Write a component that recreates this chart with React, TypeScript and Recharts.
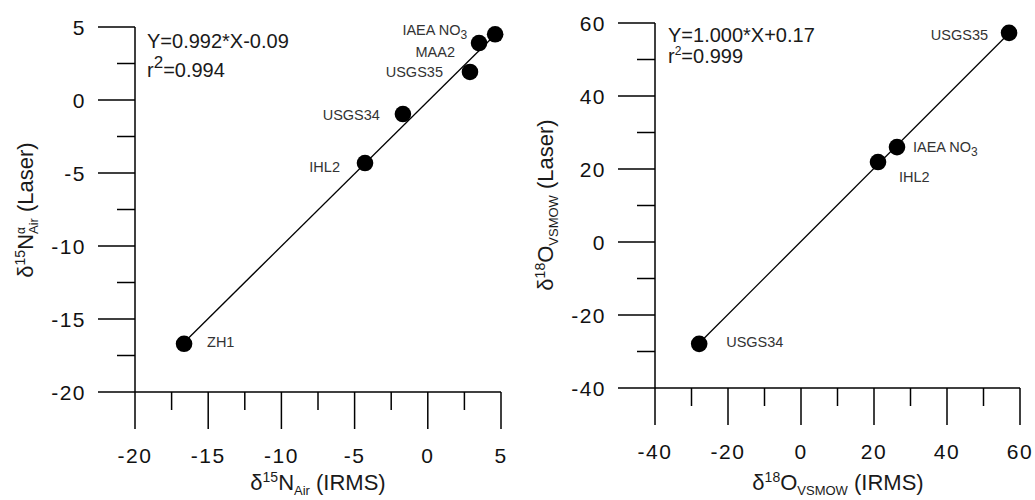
import React from "react";
import { ScatterChart, Scatter, XAxis, YAxis, ReferenceLine } from "recharts";

// left panel: nitrogen
const nNames = ["ZH1", "IHL2", "USGS34", "USGS35", "MAA2", "IAEA NO3"];
const nIrms = [-16.65, -4.29, -1.7, 2.88, 3.5, 4.6];
const nLaser = [-16.7, -4.32, -0.96, 1.92, 3.9, 4.5];
const nFit = [0.992, -0.09]; // slope, intercept
const nTicks = [-20, -17.5, -15, -12.5, -10, -7.5, -5, -2.5, 0, 2.5, 5];

// right panel: oxygen
const oNames = ["USGS34", "IHL2", "IAEA NO3", "USGS35"];
const oIrms = [-27.9, 21.1, 26.3, 57.0];
const oLaser = [-27.9, 21.9, 26.0, 57.3];
const oFit = [1.0, 0.17];
const oTicks = [-40, -30, -20, -10, 0, 10, 20, 30, 40, 50, 60];

const FONT = "'Liberation Sans', Arial, Helvetica, sans-serif";

const nLabelPos: Record<string, { dx: number; dy: number; anchor: string }> = {
  ZH1: { dx: 23, dy: -2, anchor: "start" },
  IHL2: { dx: -25, dy: 4, anchor: "end" },
  USGS34: { dx: -23, dy: 1, anchor: "end" },
  USGS35: { dx: -27, dy: 0, anchor: "end" },
  MAA2: { dx: -24, dy: 9, anchor: "end" },
  "IAEA NO3": { dx: -28, dy: -4, anchor: "end" },
};
const oLabelPos: Record<string, { dx: number; dy: number; anchor: string }> = {
  USGS34: { dx: 27, dy: -2, anchor: "start" },
  IHL2: { dx: 21, dy: 15, anchor: "start" },
  "IAEA NO3": { dx: 16, dy: 0, anchor: "start" },
  USGS35: { dx: -21, dy: 2, anchor: "end" },
};

const makeData = (names: string[], xs: number[], ys: number[]) =>
  names.map((name, i) => ({ name, x: xs[i], y: ys[i] }));

const fitSegment = (xs: number[], fit: number[]) => {
  const lo = Math.min(...xs);
  const hi = Math.max(...xs);
  return [
    { x: lo, y: fit[0] * lo + fit[1] },
    { x: hi, y: fit[0] * hi + fit[1] },
  ];
};

const isMajor = (v: number, step: number) => Math.abs(v % step) < 1e-6;

const yTick = (step: number) => (props: any) => {
  const { x, y, payload } = props;
  const major = isMajor(payload.value, step);
  const len = major ? 37 : 18;
  return (
    <g>
      <line x1={x - len} y1={y} x2={x} y2={y} stroke="#000" strokeWidth={1.5} />
      {major && (
        <text x={x - len - 12} y={y} textAnchor="end" dominantBaseline="central"
          fontSize={21} letterSpacing={1.5} fontFamily={FONT} fill="#111">
          {payload.value}
        </text>
      )}
    </g>
  );
};

const xTick = (step: number) => (props: any) => {
  const { x, y, payload } = props;
  const major = isMajor(payload.value, step);
  const len = major ? 37 : 18;
  return (
    <g>
      <line x1={x} y1={y} x2={x} y2={y + len} stroke="#000" strokeWidth={1.5} />
      {major && (
        <text x={x} y={y + 71} textAnchor="middle" fontSize={21} letterSpacing={1.5}
          fontFamily={FONT} fill="#111">
          {payload.value}
        </text>
      )}
    </g>
  );
};

const dotShape = (pos: typeof nLabelPos) => (props: any) => {
  const { cx, cy, payload } = props;
  const p = pos[payload.name];
  const isNo3 = payload.name === "IAEA NO3";
  return (
    <g>
      <circle cx={cx} cy={cy} r={8.3} fill="#000" />
      <text x={cx + p.dx} y={cy + p.dy} textAnchor={p.anchor} dominantBaseline="central"
        fontSize={14.5} fontFamily={FONT} fill="#333">
        {isNo3 ? (
          <>
            IAEA NO<tspan fontSize={12} dy={5}>3</tspan>
          </>
        ) : (
          payload.name
        )}
      </text>
    </g>
  );
};

function Panel(props: {
  data: { name: string; x: number; y: number }[];
  seg: { x: number; y: number }[];
  domain: number[];
  ticks: number[];
  step: number;
  pos: typeof nLabelPos;
  width: number;
  margin: { top: number; right: number; bottom: number; left: number };
}) {
  const { data, seg, domain, ticks, step, pos, width, margin } = props;
  return (
    <ScatterChart width={width} height={500} margin={margin}>
      <XAxis type="number" dataKey="x" domain={domain} ticks={ticks} interval={0}
        height={60} tickSize={0} tickMargin={0} tickLine={false}
        axisLine={{ stroke: "#000", strokeWidth: 1.5 }} tick={xTick(step)} />
      <YAxis type="number" dataKey="y" domain={domain} ticks={ticks} interval={0}
        width={60} tickSize={0} tickMargin={0} tickLine={false}
        axisLine={{ stroke: "#000", strokeWidth: 1.5 }} tick={yTick(step)} />
      <ReferenceLine segment={seg} stroke="#000" strokeWidth={1.3} ifOverflow="visible" />
      <Scatter data={data} isAnimationActive={false} shape={dotShape(pos)} />
    </ScatterChart>
  );
}

export default function App() {
  const txt = { fontFamily: FONT, fill: "#1a1a1a" };
  return (
    <div style={{ position: "absolute", left: 0, top: 0, width: 1035, height: 500, background: "#fff" }}>
      <div style={{ position: "absolute", left: 0, top: 0 }}>
        <Panel data={makeData(nNames, nIrms, nLaser)} seg={fitSegment(nIrms, nFit)}
          domain={[-20, 5]} ticks={nTicks} step={5} pos={nLabelPos} width={520}
          margin={{ top: 27, right: 19, bottom: 48, left: 75 }} />
      </div>
      <div style={{ position: "absolute", left: 520, top: 0 }}>
        <Panel data={makeData(oNames, oIrms, oLaser)} seg={fitSegment(oIrms, oFit)}
          domain={[-40, 60]} ticks={oTicks} step={20} pos={oLabelPos} width={515}
          margin={{ top: 23, right: 15, bottom: 52, left: 75 }} />
      </div>
      <svg width={1035} height={500} style={{ position: "absolute", left: 0, top: 0, pointerEvents: "none" }}>
        {/* left equation */}
        <text x={147} y={48} fontSize={20} {...txt}>Y=0.992*X-0.09</text>
        <text x={147} y={77} fontSize={20} {...txt}>
          r<tspan fontSize={17} dy={-9}>2</tspan><tspan dy={9}>=0.994</tspan>
        </text>
        {/* right equation */}
        <text x={668} y={42} fontSize={20} {...txt}>Y=1.000*X+0.17</text>
        <text x={668} y={63} fontSize={20} {...txt}>
          r<tspan fontSize={12} dy={-8}>2</tspan><tspan dy={8}>=0.999</tspan>
        </text>
        {/* left axis titles */}
        <text x={318} y={490} textAnchor="middle" fontSize={22} {...txt}>
          δ<tspan fontSize={14} dy={-8}>15</tspan><tspan dy={8}>N</tspan>
          <tspan fontSize={13} dy={5}>Air</tspan><tspan dy={-5}> (IRMS)</tspan>
        </text>
        <text x={33} y={210} textAnchor="middle" fontSize={22} transform="rotate(-90 33 210)" {...txt}>
          δ<tspan fontSize={14} dy={-8}>15</tspan><tspan dy={8}>N</tspan>
          <tspan fontSize={12} dy={-8}>α</tspan>
          <tspan fontSize={13} dx={-7} dy={13}>Air</tspan><tspan dy={-5}> (Laser)</tspan>
        </text>
        {/* right axis titles */}
        <text x={838} y={490} textAnchor="middle" fontSize={22} {...txt}>
          δ<tspan fontSize={14} dy={-8}>18</tspan><tspan dy={8}>O</tspan>
          <tspan fontSize={13} dy={5}>VSMOW</tspan><tspan dy={-5}> (IRMS)</tspan>
        </text>
        <text x={553} y={205} textAnchor="middle" fontSize={22} transform="rotate(-90 553 205)" {...txt}>
          δ<tspan fontSize={14} dy={-8}>18</tspan><tspan dy={8}>O</tspan>
          <tspan fontSize={13} dy={5}>VSMOW</tspan><tspan dy={-5}> (Laser)</tspan>
        </text>
      </svg>
    </div>
  );
}
